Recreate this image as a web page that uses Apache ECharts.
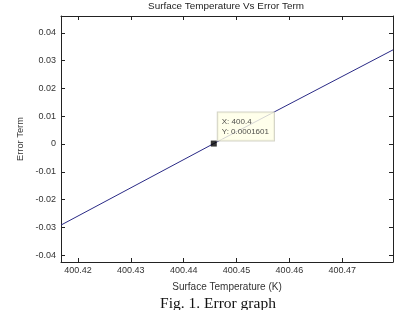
<!DOCTYPE html>
<html>
<head>
<meta charset="utf-8">
<script src="https://cdn.jsdelivr.net/npm/echarts@6/dist/echarts.min.js"></script>
<style>
  html, body { margin: 0; padding: 0; background: #fff; }
  #chart { width: 395px; height: 310px; }
</style>
</head>
<body>
<div id="chart"></div>
<script>
// data
var temps = [400.4168, 400.4457, 400.4796];
var errors = [-0.0292, 0.00016, 0.0339];
var tipPoint = [400.4457, 0.00016];
var xTicks = [400.42, 400.43, 400.44, 400.45, 400.46, 400.47];
var yTicks = [-0.04, -0.03, -0.02, -0.01, 0, 0.01, 0.02, 0.03, 0.04];

var chart = echarts.init(document.getElementById("chart"));

var lineData = temps.map(function (t, i) { return [t, errors[i]]; });

function yFmt(v) {
  if (Math.abs(v) < 1e-9) return "0";
  return v.toFixed(2);
}

function axisLine() {
  return { show: true, onZero: false, lineStyle: { color: "#222", width: 1 } };
}
function ticks(vals) {
  return { show: true, inside: true, length: 4, customValues: vals, lineStyle: { color: "#222", width: 1 } };
}

var option = {
  backgroundColor: "#fff",
  animation: false,
  grid: { left: 61, right: 2, top: 16, bottom: 48 },
  xAxis: [
    {
      type: "value",
      min: 400.4168,
      max: 400.4796,
      name: "Surface Temperature (K)",
      nameLocation: "middle",
      nameGap: 20,
      nameTextStyle: { fontFamily: "Liberation Sans", fontSize: 10, color: "#333" },
      axisLine: axisLine(),
      axisTick: ticks(xTicks),
      axisLabel: {
        customValues: xTicks,
        formatter: function (v) { return v.toFixed(2); },
        fontFamily: "Liberation Sans", fontSize: 9, color: "#333", margin: 4
      },
      splitLine: { show: false }
    },
    {
      type: "value",
      position: "top",
      min: 400.4168,
      max: 400.4796,
      axisLine: axisLine(),
      axisTick: ticks(xTicks),
      axisLabel: { show: false },
      splitLine: { show: false }
    }
  ],
  yAxis: [
    {
      type: "value",
      min: -0.0425,
      max: 0.0461,
      name: "Error Term",
      nameLocation: "middle",
      nameGap: 31,
      nameTextStyle: { fontFamily: "Liberation Sans", fontSize: 9.3, color: "#333" },
      axisLine: axisLine(),
      axisTick: ticks(yTicks),
      axisLabel: {
        customValues: yTicks,
        formatter: yFmt,
        fontFamily: "Liberation Sans", fontSize: 9, color: "#333", margin: 5
      },
      splitLine: { show: false }
    },
    {
      type: "value",
      position: "right",
      min: -0.0425,
      max: 0.0461,
      axisLine: axisLine(),
      axisTick: ticks(yTicks),
      axisLabel: { show: false },
      splitLine: { show: false }
    }
  ],
  series: [
    {
      type: "line",
      data: lineData,
      symbol: "none",
      lineStyle: { color: "#2a2a86", width: 1 },
      clip: true
    },
    {
      type: "scatter",
      data: [tipPoint],
      symbol: "rect",
      symbolSize: 6,
      itemStyle: { color: "#000" },
      zlevel: 1,
      label: {
        show: true,
        position: [7, -28],
        formatter: "X: 400.4\nY: 0.0001601",
        backgroundColor: "#ffffe6",
        borderColor: "#c8c8b8",
        borderWidth: 1,
        padding: [4, 5, 4, 4],
        lineHeight: 10,
        fontFamily: "Liberation Sans",
        fontSize: 8,
        color: "#222"
      }
    }
  ],
  graphic: [
    {
      type: "text",
      x: 226,
      y: 1,
      style: {
        text: "Surface Temperature Vs Error Term",
        align: "center",
        fontFamily: "Liberation Sans",
        fontSize: 9.9,
        fill: "#222"
      }
    },
    {
      type: "text",
      x: 218,
      y: 296,
      style: {
        text: "Fig. 1. Error graph",
        align: "center",
        fontFamily: "Liberation Serif",
        fontSize: 15.5,
        fill: "#111"
      }
    }
  ]
};

chart.setOption(option);
</script>
</body>
</html>
